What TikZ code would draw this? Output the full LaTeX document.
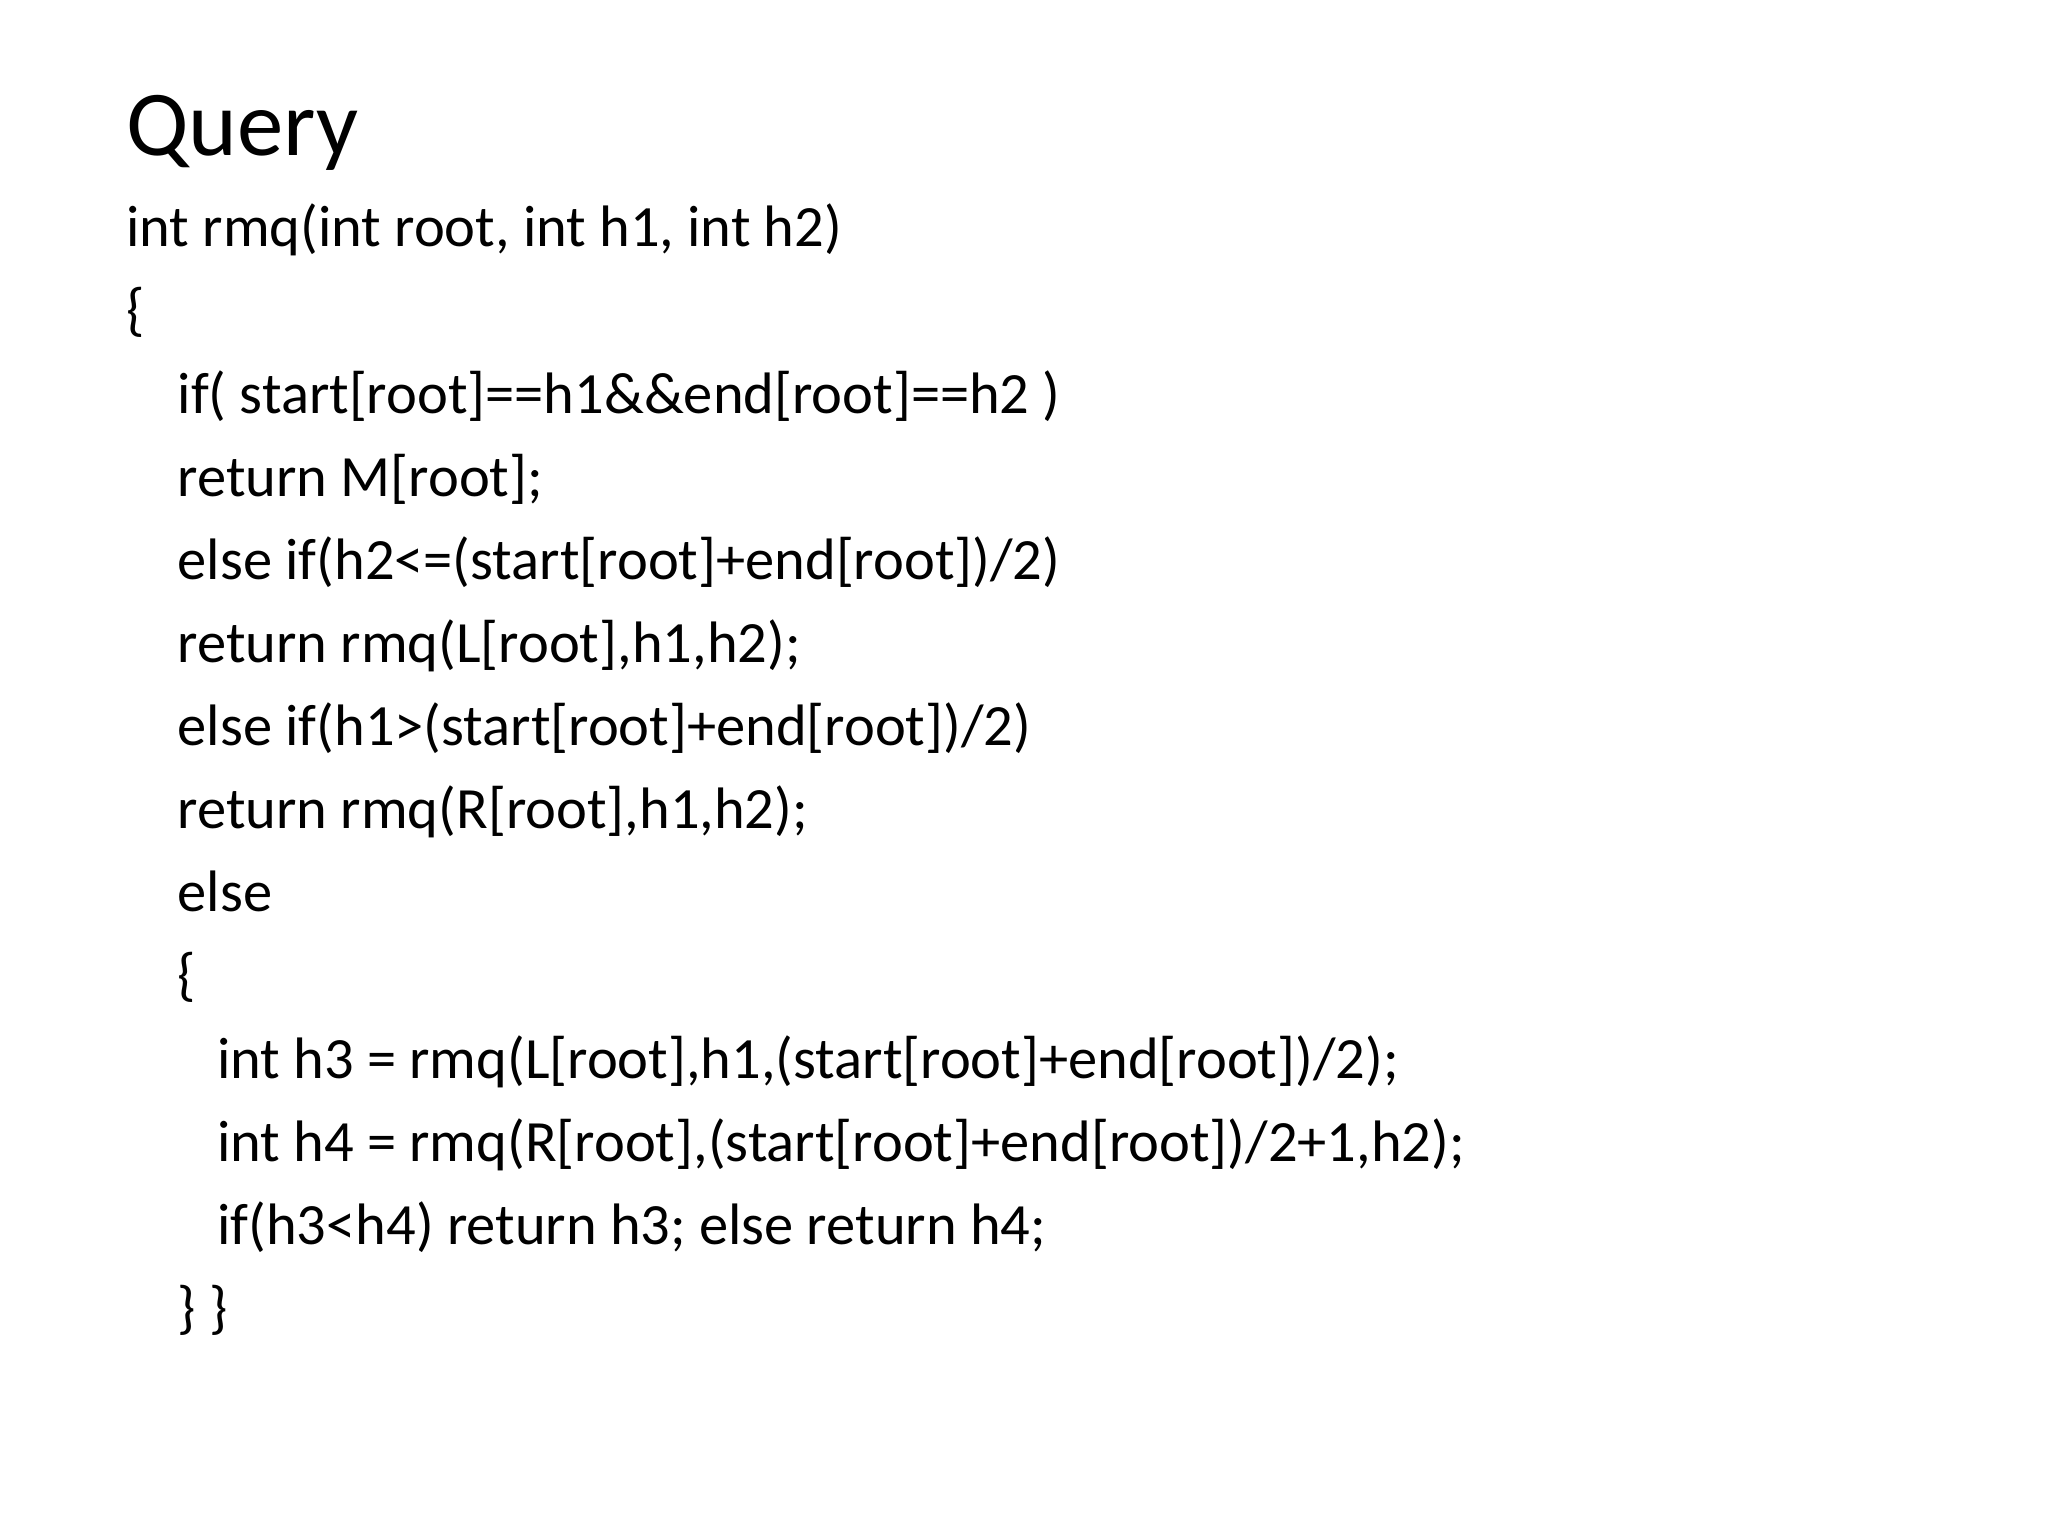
\documentclass[tikz,border=0pt]{standalone}
\usepackage{fontspec}
\setmainfont{Carlito}
\begin{document}
\begin{tikzpicture}[x=0.01cm,y=-0.01cm,
  title/.style={anchor=base west,inner sep=0pt,font=\fontsize{20pt}{24pt}\selectfont},
  code/.style={anchor=base west,inner sep=0pt,font=\fontsize{12.6pt}{15pt}\selectfont}]
        % page
        \useasboundingbox (0,0) rectangle (1552,1164);

        % heading
        \node[title] (head) at (95,118) {Query};

        % code lines
        \node[code] (l1) at (95,187) {int rmq(int root, int h1, int h2)};
        \node[code] (l2) at (95,250) {\{};
        \node[code] (l3) at (134,313) {if( start[root]==h1\&\&end[root]==h2 )};
        \node[code] (l4) at (134,376) {return M[root];};
        \node[code] (l5) at (134,439) {else if(h2<=(start[root]+end[root])/2)};
        \node[code] (l6) at (134,502) {return rmq(L[root],h1,h2);};
        \node[code] (l7) at (134,565) {else if(h1>(start[root]+end[root])/2)};
        \node[code] (l8) at (134,628) {return rmq(R[root],h1,h2);};
        \node[code] (l9) at (134,691) {else};
        \node[code] (l10) at (134,754) {\{};
        \node[code] (l11) at (164,817) {int h3 = rmq(L[root],h1,(start[root]+end[root])/2);};
        \node[code] (l12) at (164,880) {int h4 = rmq(R[root],(start[root]+end[root])/2+1,h2);};
        \node[code] (l13) at (164,943) {if(h3<h4) return h3; else return h4;};
        \node[code] (l14) at (134,1006) {\} \}};
\end{tikzpicture}
\end{document}
